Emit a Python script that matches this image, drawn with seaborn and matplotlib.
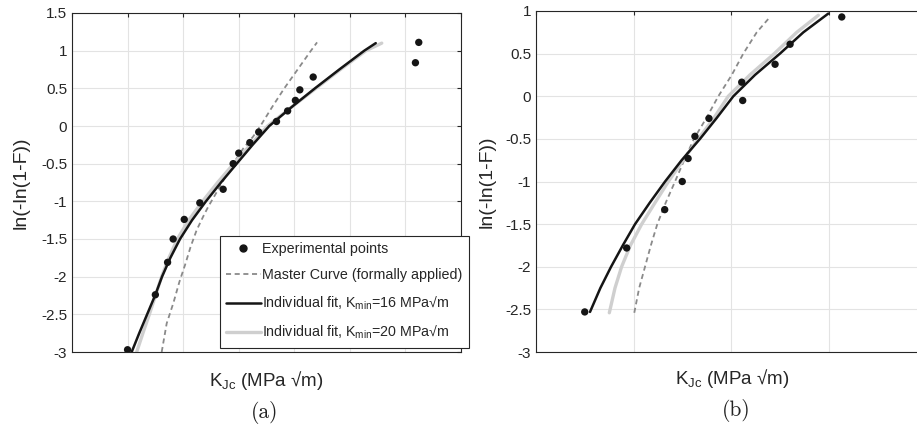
import matplotlib
matplotlib.use("Agg")
import matplotlib.pyplot as plt
from matplotlib.lines import Line2D
import numpy as np
import seaborn as sns

# panel (a): K_Jc in MPa sqrt(m), y = ln(-ln(1-F))
a_pts_x = [50, 75, 86, 91, 101, 115, 136, 145, 150, 160, 168, 184, 194, 201, 205, 217, 309, 312]
a_pts_y = [-2.97, -2.24, -1.81, -1.50, -1.24, -1.02, -0.84, -0.50, -0.36, -0.22, -0.08, 0.06, 0.20, 0.34, 0.48, 0.65, 0.84, 1.11]
a_mc_x = [80.7, 85.2, 91.2, 96.6, 101.7, 106.8, 112.2, 118.1, 122.6, 128.7, 137, 145, 154, 163, 169.5, 180, 191, 203, 215, 220.5]
a_mc_y = [-3.0, -2.62, -2.35, -2.07, -1.845, -1.60, -1.38, -1.20, -1.07, -0.916, -0.70, -0.50, -0.30, -0.14, 0.0, 0.25, 0.5, 0.75, 1.0, 1.11]
a_k16_x = [53.7, 60.5, 67.6, 75, 81, 88.5, 97.2, 108, 120.5, 134, 148.2, 162.5, 177.5, 197.5, 218.6, 240.5, 263, 273.3]
a_k16_y = [-3.0, -2.75, -2.5, -2.24, -2.0, -1.75, -1.5, -1.25, -1.0, -0.75, -0.5, -0.25, 0.0, 0.25, 0.5, 0.75, 1.0, 1.1]
a_k20_x = [58.2, 63.8, 69.6, 75.4, 80.6, 87.2, 94.8, 105, 117.5, 131, 145.5, 160.5, 176, 197.5, 219.5, 241.5, 264.5, 278.7]
a_k20_y = [-3.0, -2.75, -2.5, -2.24, -2.0, -1.75, -1.5, -1.25, -1.0, -0.75, -0.5, -0.25, 0.0, 0.25, 0.5, 0.75, 1.0, 1.1]

# panel (b)
b_pts_x = [25, 46.5, 66, 75, 78, 81.5, 88.7, 105.5, 106, 122.6, 130.3, 156.8]
b_pts_y = [-2.53, -1.78, -1.33, -1.00, -0.73, -0.47, -0.26, 0.165, -0.05, 0.375, 0.61, 0.93]
b_mc_x = [50.4, 52.9, 55.9, 58.9, 62.2, 66.5, 71.3, 76, 81, 87.5, 93.5, 100.4, 106.3, 113.2, 120]
b_mc_y = [-2.54, -2.25, -2.0, -1.75, -1.5, -1.25, -1.0, -0.75, -0.5, -0.25, 0.0, 0.25, 0.5, 0.75, 0.93]
b_k16_x = [27.7, 33, 38.5, 44.5, 50.8, 58.3, 66.2, 74.7, 84.1, 92.5, 101.2, 112.3, 125.1, 137.1, 149.9]
b_k16_y = [-2.53, -2.25, -2.0, -1.75, -1.5, -1.25, -1.0, -0.75, -0.5, -0.26, 0.0, 0.25, 0.5, 0.75, 0.97]
b_k20_x = [37.6, 40.5, 43.9, 48.4, 54.2, 61, 67.9, 75.5, 83.2, 90.5, 98.6, 109.7, 122.2, 133.7, 144.8]
b_k20_y = [-2.54, -2.25, -2.0, -1.75, -1.5, -1.25, -1.0, -0.75, -0.5, -0.28, 0.0, 0.25, 0.5, 0.75, 0.95]

sns.set_style("white")
plt.rcParams["font.family"] = ["Liberation Sans", "DejaVu Sans"]
plt.rcParams["mathtext.default"] = "regular"
plt.rcParams["axes.unicode_minus"] = False

W, H = 917, 434
fig = plt.figure(figsize=(W / 100, H / 100), dpi=100)
axa = fig.add_axes([72 / W, (H - 352) / H, (461 - 72) / W, (352 - 13) / H])
axb = fig.add_axes([536 / W, (H - 352) / H, (926 - 536) / W, (352 - 11) / H])

GRAY = "#cfcfcf"
DASH = "#8a8a8a"
DK = "#151515"
DSTYLE = (0, (2.8, 2.0))


def draw(ax, px, py, mx, my, k16x, k16y, k20x, k20y):
    sns.lineplot(x=mx, y=my, ax=ax, sort=False, estimator=None, color=DASH, lw=1.3,
                 linestyle=DSTYLE)
    sns.lineplot(x=k20x, y=k20y, ax=ax, sort=False, estimator=None, color=GRAY, lw=2.4)
    sns.lineplot(x=k16x, y=k16y, ax=ax, sort=False, estimator=None, color=DK, lw=1.8)
    sns.scatterplot(x=px, y=py, ax=ax, color=DK, s=28, edgecolor="none", zorder=5)
    ax.grid(True, color="#e3e3e3", lw=0.8)
    ax.set_axisbelow(True)
    for s in ax.spines.values():
        s.set_color("#262626")
        s.set_linewidth(0.8)
    ax.tick_params(direction="in", length=3, top=True, right=True, labelsize=11,
                   colors="#262626", labelbottom=False, labelcolor="#262626")
    ax.set_ylabel("ln(-ln(1-F))", fontsize=14, color="#262626")
    ax.set_xlabel("")


draw(axa, a_pts_x, a_pts_y, a_mc_x, a_mc_y, a_k16_x, a_k16_y, a_k20_x, a_k20_y)
axa.set_xlim(0, 350)
axa.set_xticks(np.arange(0, 351, 50))
axa.set_ylim(-3, 1.5)
axa.set_yticks(np.arange(-3, 1.51, 0.5))
axa.set_yticklabels([f"{v:g}" for v in np.arange(-3, 1.51, 0.5)])
axa.yaxis.set_label_coords(-0.131, 0.5)
axa.yaxis.label.set_verticalalignment("center")

draw(axb, b_pts_x, b_pts_y, b_mc_x, b_mc_y, b_k16_x, b_k16_y, b_k20_x, b_k20_y)
axb.set_xlim(0, 200)
axb.set_xticks(np.arange(0, 201, 50))
axb.set_ylim(-3, 1)
axb.set_yticks(np.arange(-3, 1.01, 0.5))
axb.set_yticklabels([f"{v:g}" for v in np.arange(-3, 1.01, 0.5)])
axb.yaxis.set_label_coords(-0.126, 0.5)
axb.yaxis.label.set_verticalalignment("center")

handles = [
    Line2D([], [], marker="o", ls="none", color=DK, markersize=5),
    Line2D([], [], color=DASH, lw=1.3, linestyle=DSTYLE),
    Line2D([], [], color=DK, lw=1.8),
    Line2D([], [], color=GRAY, lw=2.4),
]
labels = [
    "Experimental points",
    "Master Curve (formally applied)",
    "Individual fit, K$_{min}$=16 MPa√m",
    "Individual fit, K$_{min}$=20 MPa√m",
]
leg = axa.legend(handles, labels, loc="lower left", bbox_to_anchor=(0.38, 0.012),
                 borderaxespad=0, fontsize=10.3, handlelength=2.4, handletextpad=0.1,
                 labelspacing=0.85, borderpad=0.45, fancybox=False, framealpha=1)
leg.get_frame().set_edgecolor("#262626")
leg.get_frame().set_linewidth(0.8)

fig.text(266 / W, 1 - 381 / H, "K$_{Jc}$ (MPa √m)", ha="center", va="center",
         fontsize=13.5, color="#262626")
fig.text(732 / W, 1 - 379 / H, "K$_{Jc}$ (MPa √m)", ha="center", va="center",
         fontsize=13.5, color="#262626")
fig.text(265 / W, 1 - 412 / H, "(a)", ha="center", va="center", fontsize=15.5,
         family="cmr10", color="#222222")
fig.text(736 / W, 1 - 410 / H, "(b)", ha="center", va="center", fontsize=15.5,
         family="cmr10", color="#222222")

fig.savefig("out.png", dpi=100)
